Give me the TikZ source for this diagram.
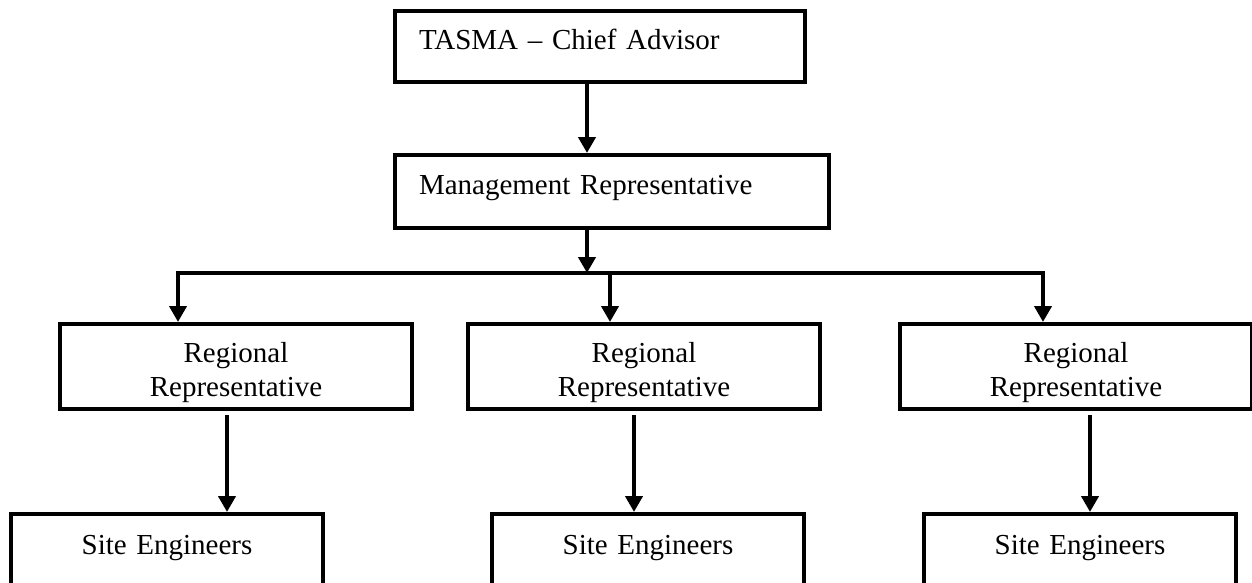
\documentclass[tikz,border=0pt]{standalone}
\usepackage{fontspec}
\setmainfont{Liberation Serif}
\usetikzlibrary{arrows.meta,positioning}

\begin{document}
\begin{tikzpicture}[
    x=1pt, y=-1pt,
    font=\fontsize{29}{34}\selectfont,
    line width=4pt,
    headbox/.style={rectangle, draw, anchor=north west, align=left,
                    inner xsep=24pt, inner ysep=0pt, text height=39pt},
    regbox/.style={rectangle, draw, anchor=north west, align=center,
                   minimum width=352pt, minimum height=85pt, inner sep=0pt,
                   text height=65pt, text depth=6pt},
    sitebox/.style={rectangle, draw, anchor=north west, align=center,
                    text width=312pt, inner sep=0pt,
                    text height=40pt, text depth=60pt},
    arr/.style={-{Triangle[length=16pt, width=17pt]}, line width=4pt}
  ]
  \path[use as bounding box, clip] (0,0) rectangle (1252,583);

  \node[headbox, text width=362pt, text depth=32pt] (chief) at (393,9) {TASMA – Chief Advisor};
  \node[headbox, text width=386pt, text depth=34pt] (mgmt) at (393,153) {Management Representative};

  \node[regbox] (regA) at (58,322) {Regional\\Representative};
  \node[regbox] (regB) at (466,322) {Regional\\Representative};
  \node[regbox] (regC) at (898,322) {Regional\\Representative};

  \node[sitebox] (siteA) at (9,512) {Site Engineers};
  \node[sitebox] (siteB) at (490,512) {Site Engineers};
  \node[sitebox] (siteC) at (922,512) {Site Engineers};

  \coordinate (trunk) at (587,273);
  \coordinate (dropA) at (178,273);
  \coordinate (dropB) at (610,273);
  \coordinate (dropC) at (1043,273);
  \coordinate (legA) at (227,415);
  \coordinate (legB) at (634,415);
  \coordinate (legC) at (1090,415);

  \draw[arr] (chief.south -| trunk) -- (mgmt.north -| trunk);
  \draw[arr] (mgmt.south -| trunk) -- (trunk);
  \draw[arr] (trunk) -| (regA.north -| dropA);
  \draw[arr] (trunk) -| (regC.north -| dropC);
  \draw[arr] (dropB) -- (regB.north -| dropB);

  \draw[arr] (legA) -- (siteA.north -| legA);
  \draw[arr] (legB) -- (siteB.north -| legB);
  \draw[arr] (legC) -- (siteC.north -| legC);
\end{tikzpicture}
\end{document}
